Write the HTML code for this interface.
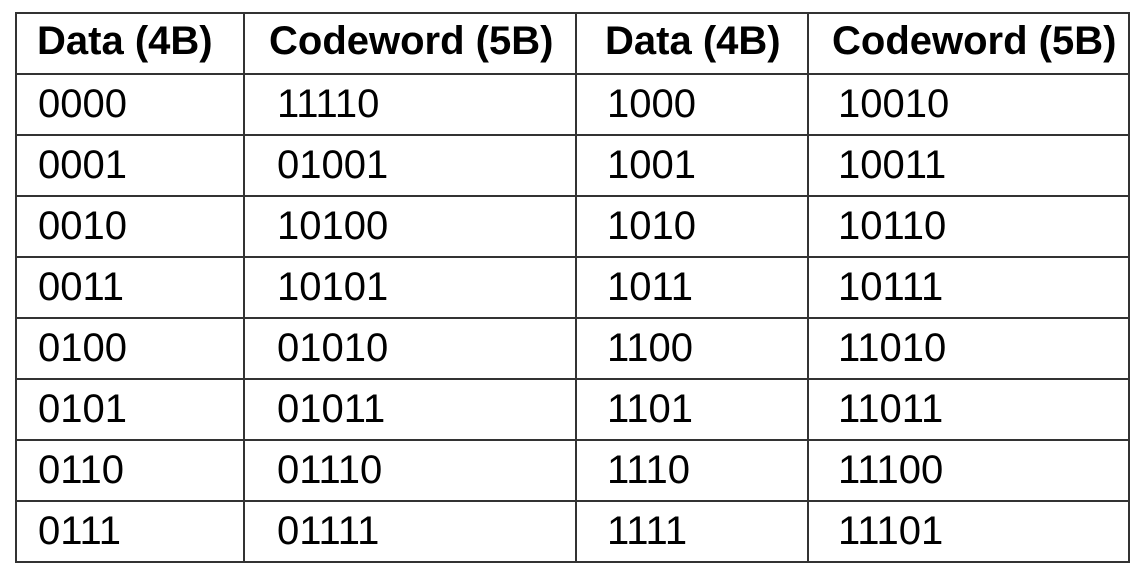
<!DOCTYPE html>
<html><head><style>
html,body{margin:0;padding:0;background:#fff;width:1144px;height:575px;overflow:hidden}
svg{display:block}
text{font-family:"Liberation Sans",Arial,sans-serif;fill:#000}
.h{font-weight:bold;font-size:40px}
.b{font-size:40px}
</style></head><body>
<svg width="1144" height="575" xmlns="http://www.w3.org/2000/svg">
<g stroke="#333" stroke-width="2" fill="none">
<rect x="16" y="13" width="1113" height="549"/>
<line x1="244" y1="13" x2="244" y2="562"/>
<line x1="576" y1="13" x2="576" y2="562"/>
<line x1="808" y1="13" x2="808" y2="562"/>
<line x1="16" y1="74" x2="1129" y2="74"/>
<line x1="16" y1="135" x2="1129" y2="135"/>
<line x1="16" y1="196" x2="1129" y2="196"/>
<line x1="16" y1="257" x2="1129" y2="257"/>
<line x1="16" y1="318" x2="1129" y2="318"/>
<line x1="16" y1="379" x2="1129" y2="379"/>
<line x1="16" y1="440" x2="1129" y2="440"/>
<line x1="16" y1="501" x2="1129" y2="501"/>
</g>
<text class="h" x="37" y="54">Data (4B)</text>
<text class="h" x="269" y="54">Codeword (5B)</text>
<text class="h" x="605" y="54">Data (4B)</text>
<text class="h" x="832" y="54">Codeword (5B)</text>
<g>
<text class="b" x="38" y="117">0000</text><text class="b" x="277" y="117">11110</text><text class="b" x="607" y="117">1000</text><text class="b" x="838" y="117">10010</text>
<text class="b" x="38" y="178">0001</text><text class="b" x="277" y="178">01001</text><text class="b" x="607" y="178">1001</text><text class="b" x="838" y="178">10011</text>
<text class="b" x="38" y="239">0010</text><text class="b" x="277" y="239">10100</text><text class="b" x="607" y="239">1010</text><text class="b" x="838" y="239">10110</text>
<text class="b" x="38" y="300">0011</text><text class="b" x="277" y="300">10101</text><text class="b" x="607" y="300">1011</text><text class="b" x="838" y="300">10111</text>
<text class="b" x="38" y="361">0100</text><text class="b" x="277" y="361">01010</text><text class="b" x="607" y="361">1100</text><text class="b" x="838" y="361">11010</text>
<text class="b" x="38" y="422">0101</text><text class="b" x="277" y="422">01011</text><text class="b" x="607" y="422">1101</text><text class="b" x="838" y="422">11011</text>
<text class="b" x="38" y="483">0110</text><text class="b" x="277" y="483">01110</text><text class="b" x="607" y="483">1110</text><text class="b" x="838" y="483">11100</text>
<text class="b" x="38" y="544">0111</text><text class="b" x="277" y="544">01111</text><text class="b" x="607" y="544">1111</text><text class="b" x="838" y="544">11101</text>
</g>
</svg>
</body></html>
